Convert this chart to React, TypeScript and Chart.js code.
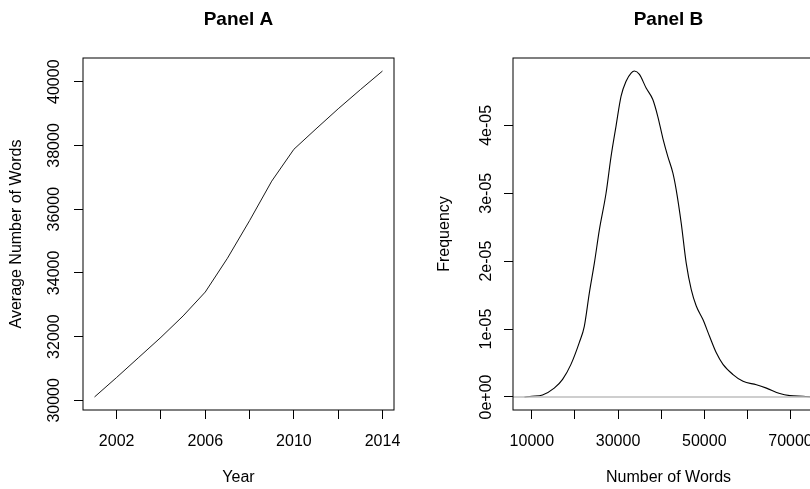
import { useEffect, useRef } from "react";
import { Chart, registerables } from "chart.js";

Chart.register(...registerables);

// ---------- Data ----------
const years = [2001, 2002, 2003, 2004, 2005, 2006, 2007, 2008, 2009, 2010, 2011, 2012, 2013, 2014];
const avgWords = [30107, 30720, 31350, 31980, 32650, 33400, 34460, 35640, 36880, 37880, 38520, 39150, 39750, 40335];
const yearTicks = [2002, 2004, 2006, 2008, 2010, 2012, 2014];
const yearLabels = [2002, 2006, 2010, 2014];
const avgWordTicks = [30000, 32000, 34000, 36000, 38000, 40000];

const densityX = [
  8300, 10000, 12480, 15190, 17130, 19070, 21000, 22170, 23330, 24500, 25660, 27210, 28370, 29530,
  30700, 31860, 33020, 33800, 34960, 36510, 38060, 39220, 40390, 41550, 42710, 43490, 44650, 45810,
  46980, 48140, 49690, 51240, 52790, 54340, 56670, 58990, 62090, 64420, 67520, 69840, 72940, 75100,
];
const densityY = [
  0.0, 0.01e-5, 0.03e-5, 0.13e-5, 0.26e-5, 0.48e-5, 0.8e-5, 1.04e-5, 1.53e-5, 1.97e-5, 2.46e-5, 3.0e-5,
  3.54e-5, 3.99e-5, 4.43e-5, 4.65e-5, 4.77e-5, 4.8e-5, 4.75e-5, 4.55e-5, 4.38e-5, 4.13e-5, 3.81e-5,
  3.54e-5, 3.3e-5, 3.05e-5, 2.56e-5, 1.97e-5, 1.58e-5, 1.34e-5, 1.14e-5, 0.89e-5, 0.65e-5, 0.48e-5,
  0.33e-5, 0.23e-5, 0.18e-5, 0.13e-5, 0.05e-5, 0.02e-5, 0.01e-5, 0.0,
];
const wordTicks = [10000, 20000, 30000, 40000, 50000, 60000, 70000];
const wordLabels = [10000, 30000, 50000, 70000];
const freqTicks = [0, 1e-5, 2e-5, 3e-5, 4e-5];

// ---------- Styling helpers ----------
const FAMILY = "'Liberation Sans', Arial, Helvetica, sans-serif";
const INK = "#000";

function rRange(values: number[]): [number, number] {
  const lo = Math.min(...values);
  const hi = Math.max(...values);
  const pad = (hi - lo) * 0.04;
  return [lo - pad, hi + pad];
}

function sciLabel(v: number): string {
  return v.toExponential(0).replace(/e([+-])(\d)$/, "e$10$2");
}

const boxPlugin = {
  id: "rbox",
  afterDraw(chart: any) {
    const { ctx, chartArea } = chart;
    ctx.save();
    ctx.strokeStyle = "#000";
    ctx.lineWidth = 1;
    ctx.strokeRect(chartArea.left, chartArea.top, chartArea.right - chartArea.left, chartArea.bottom - chartArea.top);
    ctx.restore();
  },
};

function axisGrid() {
  return { drawOnChartArea: false, drawTicks: true, tickLength: 9, color: INK, lineWidth: 1 };
}

function makeOptions(cfg: {
  title: string;
  xTitle: string;
  yTitle: string;
  xRange: [number, number];
  yRange: [number, number];
  xTickValues: number[];
  yTickValues: number[];
  xLabel: (v: number) => string;
  yLabel: (v: number) => string;
  yPad: number;
  yTitlePad: number;
}): any {
  const font = { family: FAMILY, size: 16 };
  return {
    responsive: false,
    animation: false,
    devicePixelRatio: 1,
    layout: { padding: { left: 0, right: 36, top: 0, bottom: 0 } },
    plugins: {
      legend: { display: false },
      tooltip: { enabled: false },
      title: {
        display: true,
        text: cfg.title,
        fullSize: false,
        color: INK,
        font: { family: FAMILY, size: 19, weight: "bold", lineHeight: 1.2 },
        padding: { top: 8.3, bottom: 26.9 },
      },
    },
    scales: {
      x: {
        type: "linear",
        position: "bottom",
        min: cfg.xRange[0],
        max: cfg.xRange[1],
        afterBuildTicks: (s: any) => {
          s.ticks = cfg.xTickValues.map((v) => ({ value: v }));
        },
        afterFit: (s: any) => {
          s.height = 79;
        },
        grid: axisGrid(),
        border: { display: false },
        ticks: {
          autoSkip: false,
          minRotation: 0,
          maxRotation: 0,
          padding: 13,
          color: INK,
          font,
          callback: (v: number) => cfg.xLabel(v),
        },
        title: { display: true, text: cfg.xTitle, color: INK, font, padding: { top: 0, bottom: 1.9 } },
      },
      y: {
        type: "linear",
        position: "left",
        min: cfg.yRange[0],
        max: cfg.yRange[1],
        afterBuildTicks: (s: any) => {
          s.ticks = cfg.yTickValues.map((v) => ({ value: v }));
        },
        afterFit: (s: any) => {
          s.width = 83;
        },
        grid: axisGrid(),
        border: { display: false },
        ticks: {
          autoSkip: false,
          minRotation: 90,
          maxRotation: 90,
          crossAlign: "center",
          padding: cfg.yPad,
          color: INK,
          font,
          callback: (v: number) => cfg.yLabel(v),
        },
        title: { display: true, text: cfg.yTitle, color: INK, font, padding: { top: cfg.yTitlePad, bottom: 0 } },
      },
    },
  };
}

function PanelA() {
  const ref = useRef<HTMLCanvasElement | null>(null);
  useEffect(() => {
    if (!ref.current) return;
    const chart = new Chart(ref.current, {
      type: "line",
      data: {
        datasets: [
          {
            data: years.map((y, i) => ({ x: y, y: avgWords[i] })),
            borderColor: "#1a1a1a",
            borderWidth: 1,
            pointRadius: 0,
            tension: 0,
            fill: false,
          },
        ],
      },
      options: makeOptions({
        title: "Panel A",
        xTitle: "Year",
        yTitle: "Average Number of Words",
        xRange: rRange(years),
        yRange: rRange(avgWords),
        xTickValues: yearTicks,
        yTickValues: avgWordTicks,
        xLabel: (v) => (yearLabels.includes(v) ? String(v) : ""),
        yLabel: (v) => String(v),
        yPad: -2.7,
        yTitlePad: 7.4,
      }),
      plugins: [boxPlugin],
    } as any);
    return () => chart.destroy();
  }, []);
  return <canvas ref={ref} width={430} height={489} style={{ position: "absolute", left: 0, top: 0, width: 430, height: 489 }} />;
}

function PanelB() {
  const ref = useRef<HTMLCanvasElement | null>(null);
  useEffect(() => {
    if (!ref.current) return;
    const xr = rRange(densityX);
    const chart = new Chart(ref.current, {
      type: "line",
      data: {
        datasets: [
          {
            data: [
              { x: xr[0], y: 0 },
              { x: xr[1], y: 0 },
            ],
            borderColor: "#bebebe",
            borderWidth: 1.4,
            pointRadius: 0,
            tension: 0,
            fill: false,
          },
          {
            data: densityX.map((x, i) => ({ x, y: densityY[i] })),
            borderColor: "#000",
            borderWidth: 1.1,
            pointRadius: 0,
            cubicInterpolationMode: "monotone",
            fill: false,
          },
        ],
      },
      options: makeOptions({
        title: "Panel B",
        xTitle: "Number of Words",
        yTitle: "Frequency",
        xRange: xr,
        yRange: rRange(densityY),
        xTickValues: wordTicks,
        yTickValues: freqTicks,
        xLabel: (v) => (wordLabels.includes(v) ? String(v) : ""),
        yLabel: (v) => sciLabel(v),
        yPad: -5.1,
        yTitlePad: 5,
      }),
      plugins: [boxPlugin],
    } as any);
    return () => chart.destroy();
  }, []);
  return <canvas ref={ref} width={430} height={489} style={{ position: "absolute", left: 430, top: 0, width: 430, height: 489 }} />;
}

export default function App() {
  return (
    <div style={{ position: "absolute", left: 0, top: 0, width: 810, height: 489, overflow: "hidden", background: "#fff" }}>
      <PanelA />
      <PanelB />
    </div>
  );
}
